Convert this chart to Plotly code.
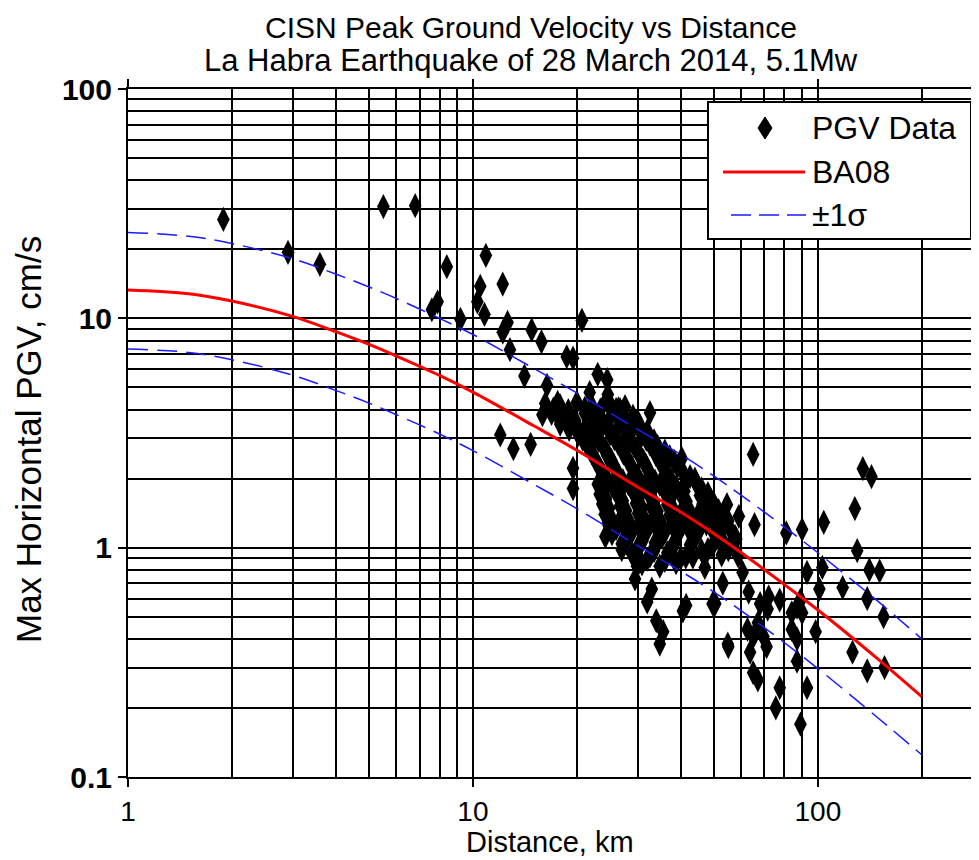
import plotly.graph_objects as go

FONT = "Liberation Sans, Arial, sans-serif"

# PGV observations as (distance km, max horizontal PGV cm/s)
near_records = [
    (1.89, 27.0), (2.91, 19.4), (3.6, 17.2), (5.5, 30.7), (6.8, 31.0),
    (8.4, 16.8), (7.9, 11.8), (7.6, 10.9), (9.2, 9.9), (10.9, 18.8),
    (12.2, 14.1), (10.5, 13.8), (10.3, 11.8), (10.8, 10.4), (12.6, 9.6),
    (12.2, 8.7), (12.8, 7.3), (14.1, 5.6), (14.8, 8.9), (15.8, 7.9),
    (18.7, 6.8), (19.5, 6.7), (20.7, 9.8), (16.4, 5.1), (23.0, 5.7),
    (24.5, 5.4), (24.6, 4.65), (21.8, 4.75), (26.0, 4.0), (32.6, 3.88),
    (12.0, 3.1), (13.1, 2.7), (14.7, 2.82), (19.5, 2.22), (19.5, 1.81),
    (17.6, 4.3), (15.9, 3.8), (20.8, 3.18), (21.8, 2.76), (24.4, 4.4),
    (26.7, 4.0),
]

# dense group of stations between roughly 16 and 60 km
cluster_records = [
    (16.2, 4.25), (17.9, 4.15), (20.0, 4.3), (22.2, 4.1), (25.0, 4.22), (27.6, 4.12),
    (17.1, 4.02), (18.9, 3.96), (21.1, 4.05), (23.4, 3.98), (26.4, 4.03),
    (16.9, 3.85), (18.8, 3.75), (21.1, 3.86), (23.3, 3.78), (26.1, 3.84), (29.1, 3.74),
    (17.8, 3.63), (19.8, 3.58), (22.2, 3.66), (24.8, 3.60), (27.7, 3.64), (30.0, 3.57),
    (17.9, 3.46), (19.9, 3.40), (22.2, 3.48), (24.5, 3.42), (27.3, 3.45), (30.5, 3.38),
    (19.0, 3.28), (21.1, 3.24), (23.5, 3.30), (26.1, 3.25), (29.0, 3.29), (32.0, 3.22),
    (20.2, 3.12), (22.4, 3.08), (25.0, 3.14), (27.8, 3.06), (30.9, 3.10),
    (20.8, 2.97), (23.1, 2.94), (25.7, 2.99), (28.5, 2.93), (31.8, 2.97), (33.5, 2.92),
    (21.3, 2.84), (23.7, 2.80), (26.3, 2.86), (29.3, 2.78), (32.6, 2.83), (34.3, 2.76),
    (21.8, 2.69), (24.3, 2.66), (27.0, 2.70), (30.0, 2.65), (33.4, 2.69), (36.0, 2.64),
    (22.2, 2.56), (24.5, 2.52), (27.3, 2.58), (30.5, 2.50), (33.9, 2.55), (37.2, 2.49),
    (22.6, 2.43), (25.2, 2.40), (28.0, 2.44), (31.2, 2.39), (34.6, 2.42), (38.3, 2.38),
    (23.0, 2.31), (25.6, 2.28), (28.5, 2.33), (31.8, 2.27), (35.3, 2.30), (39.2, 2.26),
    (23.4, 2.20), (26.0, 2.17), (29.0, 2.21), (32.3, 2.16), (35.9, 2.19), (40.5, 2.15),
    (23.9, 2.09), (26.5, 2.06), (29.5, 2.10), (32.8, 2.05), (36.5, 2.08), (42.6, 2.04),
    (24.5, 1.99), (27.2, 1.96), (30.3, 2.00), (33.7, 1.95), (37.5, 1.98), (41.5, 1.95), (44.0, 1.99),
    (23.0, 1.89), (25.3, 1.86), (28.2, 1.90), (31.3, 1.85), (34.8, 1.89), (38.8, 1.84), (44.7, 1.87),
    (24.0, 1.80), (26.8, 1.77), (29.8, 1.81), (33.0, 1.76), (36.8, 1.79), (41.0, 1.76), (46.0, 1.80),
    (23.3, 1.71), (26.3, 1.68), (29.3, 1.72), (32.6, 1.67), (36.3, 1.70), (40.4, 1.66), (45.5, 1.69),
    (24.3, 1.63), (27.2, 1.60), (30.2, 1.64), (33.5, 1.59), (37.3, 1.62), (41.6, 1.59), (47.0, 1.63), (49.0, 1.60),
    (23.7, 1.55), (26.7, 1.52), (29.7, 1.56), (32.9, 1.51), (36.6, 1.54), (40.8, 1.50), (46.3, 1.55), (50.3, 1.52),
    (24.8, 1.48), (27.8, 1.45), (30.9, 1.49), (34.3, 1.44), (38.1, 1.47), (42.6, 1.44), (48.0, 1.48), (51.5, 1.45),
    (24.1, 1.40), (27.0, 1.37), (30.1, 1.41), (33.4, 1.36), (37.2, 1.39), (41.4, 1.35), (46.9, 1.40), (52.6, 1.37),
    (25.2, 1.34), (28.3, 1.31), (31.4, 1.34), (35.0, 1.30), (38.9, 1.33), (43.5, 1.30), (49.5, 1.34), (55.0, 1.31),
    (24.6, 1.27), (27.3, 1.24), (30.5, 1.28), (33.9, 1.23), (37.7, 1.26), (42.0, 1.22), (47.5, 1.27), (53.4, 1.24),
    (26.0, 1.21), (29.0, 1.18), (32.2, 1.21), (36.0, 1.17), (40.0, 1.20), (45.0, 1.17), (51.5, 1.21), (56.0, 1.18),
    (25.3, 1.15), (28.2, 1.12), (31.5, 1.16), (35.3, 1.11), (39.2, 1.14), (44.0, 1.10), (50.0, 1.15), (57.5, 1.12),
    (27.8, 1.09), (31.0, 1.07), (34.7, 1.09), (38.7, 1.06), (43.6, 1.08), (53.0, 1.07), (58.0, 1.09),
    (27.0, 1.04), (30.1, 1.01), (33.7, 1.05), (37.7, 1.00), (42.6, 1.03), (49.3, 1.01), (56.3, 1.04),
    (30.0, 0.98), (33.5, 0.97), (37.5, 0.99), (46.0, 0.97), (55.0, 0.98),
    (28.9, 0.94), (32.6, 0.92), (36.6, 0.95), (41.4, 0.91), (52.6, 0.93), (58.7, 0.92),
    (32.0, 0.89), (36.0, 0.88), (40.0, 0.90),
    (30.9, 0.85), (34.8, 0.83), (38.8, 0.86),
]

far_records = [
    (40.3, 2.45), (64.9, 2.55), (24.2, 1.12), (27.0, 0.98), (29.9, 0.83),
    (29.5, 0.73), (33.0, 0.66), (32.0, 0.58), (34.0, 0.48), (35.6, 0.43),
    (34.8, 0.38), (41.5, 0.56), (40.6, 0.53), (53.0, 0.70), (50.4, 0.57),
    (55.0, 0.37), (43.4, 0.91), (48.0, 1.72), (54.5, 1.54), (59.0, 1.37),
    (65.5, 1.26), (81.0, 1.16), (90.0, 1.20), (104.0, 1.29), (128.0, 1.48),
    (135.0, 2.21), (143.0, 2.04), (48.0, 0.98), (130.0, 0.97), (141.0, 0.80),
    (151.0, 0.79), (118.0, 0.67), (139.0, 0.60), (155.0, 0.50), (103.0, 0.82),
    (93.0, 0.78), (101.0, 0.66), (98.5, 0.43), (126.0, 0.35), (139.0, 0.29),
    (156.0, 0.30), (49.5, 0.57), (54.8, 0.38), (64.9, 0.285), (67.0, 0.265),
    (77.5, 0.245), (75.5, 0.20), (93.0, 0.245), (89.0, 0.17), (68.0, 0.57),
    (72.0, 0.61), (67.0, 0.47), (65.0, 0.41), (71.0, 0.37), (84.0, 0.52),
    (87.0, 0.55), (87.0, 0.40), (87.0, 0.32), (60.5, 0.78), (63.0, 0.64),
    (62.5, 0.44), (71.5, 0.54), (69.5, 0.41), (63.6, 0.35), (56.7, 1.08),
    (77.5, 0.59), (89.0, 0.59), (90.0, 0.52), (84.0, 0.44), (46.0, 1.25),
    (51.0, 1.10), (45.5, 1.45), (47.0, 0.82),
]

# BA08 median and +/- one sigma curves read along distance
model_dist = [1, 1.5, 2, 3, 4, 5, 6, 8, 10, 15, 20, 30, 40, 50, 60, 80, 100, 150, 200]
ba08 = [13.3, 12.8, 11.9, 10.2, 8.75, 7.7, 6.85, 5.64, 4.77, 3.4, 2.66, 1.84, 1.43, 1.15, 0.95, 0.69, 0.535, 0.325, 0.224]
ba08_plus = [23.7, 22.8, 21.2, 18.2, 15.6, 13.7, 12.2, 10.0, 8.5, 6.05, 4.73, 3.28, 2.55, 2.05, 1.69, 1.23, 0.95, 0.58, 0.40]
ba08_minus = [7.35, 7.1, 6.6, 5.65, 4.85, 4.27, 3.8, 3.13, 2.65, 1.89, 1.48, 1.02, 0.79, 0.64, 0.53, 0.385, 0.297, 0.18, 0.125]

x_major = [1, 10, 100]
x_minor = [2, 3, 4, 5, 6, 7, 8, 9, 20, 30, 40, 50, 60, 70, 80, 90, 200]
y_major = [0.1, 1, 10, 100]
y_minor = [m * d for d in (0.1, 1, 10) for m in range(2, 10)]

legend_labels = ["PGV Data", "BA08", "±1σ"]

records = near_records + cluster_records + far_records
dist = [r[0] for r in records]
pgv = [r[1] for r in records]

# the page body has an 8px default margin, so the figure is drawn 8px
# smaller and all page positions below are measured from the window corner
BODY = 8
W, H = 979 - BODY, 860 - BODY
# plot area in window pixels: left 128, right 979, top 89, bottom 777
L, R, T, B = 128, 979, 89, 777


def px(xp):
    return (xp - L) / (R - L)


def py(yp):
    return (B - yp) / (B - T)


fig = go.Figure()
fig.add_trace(go.Scatter(
    x=dist, y=pgv, mode="markers", name="PGV Data", showlegend=False,
    marker=dict(symbol="diamond-tall", size=18, color="black"),
))
fig.add_trace(go.Scatter(
    x=model_dist, y=ba08, mode="lines", name="BA08", showlegend=False,
    line=dict(color="#ff0000", width=3, shape="spline"),
))
for sig in (ba08_plus, ba08_minus):
    fig.add_trace(go.Scatter(
        x=model_dist, y=sig, mode="lines", name="±1σ", showlegend=False,
        line=dict(color="#1a1aff", width=1.5, dash="20px,9px", shape="spline"),
    ))

axis_common = dict(
    type="log", showline=True, linecolor="black", linewidth=2,
    ticks="outside", ticklen=8, tickwidth=2, tickcolor="black",
    showgrid=True, gridcolor="black", gridwidth=2, zeroline=False,
    automargin=False,
)

fig.update_xaxes(
    **axis_common, range=[0, 2.467], mirror="ticks",
    tickmode="array", tickvals=x_major, ticktext=[str(v) for v in x_major],
    tickfont=dict(family=FONT, size=28, color="black"),
    minor=dict(tickmode="array", tickvals=x_minor, showgrid=True,
               gridcolor="black", gridwidth=2, ticks=""),
)
fig.update_yaxes(
    **axis_common, range=[-1, 2],
    tickmode="array", tickvals=y_major,
    ticktext=["<b>0.1</b>", "<b>1</b>", "<b>10</b>", "<b>100</b>"],
    tickfont=dict(family=FONT, size=30, color="black"),
    minor=dict(tickmode="array", tickvals=y_minor, showgrid=True,
               gridcolor="black", gridwidth=2, ticks=""),
)

# hand-built legend box in the upper right corner
shapes = [
    dict(type="rect", xref="paper", yref="paper", layer="above",
         x0=px(708), x1=px(971), y0=py(239), y1=py(102),
         line=dict(color="black", width=2), fillcolor="white"),
    dict(type="path", xref="paper", yref="paper", layer="above",
         path=f"M{px(765)},{py(117)} L{px(772)},{py(128)} L{px(765)},{py(139)} "
              f"L{px(758)},{py(128)} Z",
         line=dict(color="black", width=1), fillcolor="black"),
    dict(type="line", xref="paper", yref="paper", layer="above",
         x0=px(723), x1=px(805), y0=py(172), y1=py(172),
         line=dict(color="#ff0000", width=3)),
    dict(type="line", xref="paper", yref="paper", layer="above",
         x0=px(731), x1=px(806), y0=py(215), y1=py(215),
         line=dict(color="#1a1aff", width=1.5, dash="20px,8px")),
]

annotations = [
    dict(text="CISN Peak Ground Velocity vs Distance", xref="paper", yref="paper",
         x=px(531), y=py(27), xanchor="center", yanchor="middle", showarrow=False,
         font=dict(family=FONT, size=30, color="black")),
    dict(text="La Habra Earthquake of 28 March 2014, 5.1Mw", xref="paper", yref="paper",
         x=px(531), y=py(61), xanchor="center", yanchor="middle", showarrow=False,
         font=dict(family=FONT, size=31, color="black")),
    dict(text="Max Horizontal PGV, cm/s", xref="paper", yref="paper",
         x=px(28), y=py(440), xanchor="center", yanchor="middle", textangle=-90,
         showarrow=False, font=dict(family=FONT, size=35, color="black")),
    dict(text="Distance, km", xref="paper", yref="paper",
         x=px(550), y=py(860), xanchor="center", yanchor="bottom", showarrow=False,
         font=dict(family=FONT, size=29, color="black")),
]
for label, ypix in zip(legend_labels, (128, 172, 215)):
    annotations.append(dict(
        text=label, xref="paper", yref="paper", x=px(810), y=py(ypix),
        xanchor="left", yanchor="middle", showarrow=False,
        font=dict(family=FONT, size=32, color="black"),
    ))

fig.update_layout(
    width=W, height=H, autosize=False,
    margin=dict(l=L - BODY, r=979 - R, t=T - BODY, b=H - (B - BODY), pad=0),
    paper_bgcolor="white", plot_bgcolor="white",
    font=dict(family=FONT, color="black"),
    showlegend=False,
    shapes=shapes,
    annotations=annotations,
)

fig.write_html("out.html")
